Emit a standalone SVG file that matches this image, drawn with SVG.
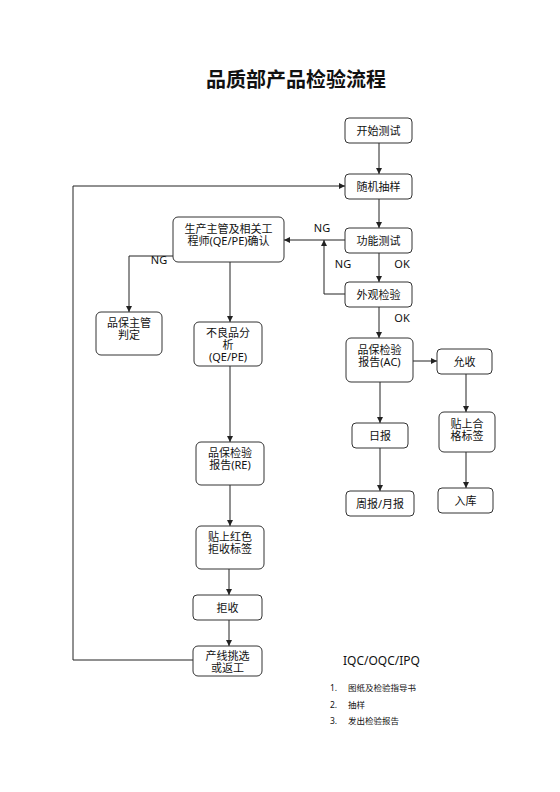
<svg xmlns="http://www.w3.org/2000/svg" width="560" height="792" viewBox="0 0 560 792">
<defs>
<style>
.n rect{fill:#fff;stroke:#333;stroke-width:1}
text{font-family:"Noto Sans","Noto Sans CJK SC",sans-serif;fill:#111}
.t{font-size:11px;text-anchor:middle}
.lbl{font-size:11px;text-anchor:middle}
.c{fill:none;stroke:#222;stroke-width:1}
.li{font-size:8.5px}
</style>
<marker id="ah" markerWidth="6" markerHeight="6" refX="6" refY="3" orient="auto" markerUnits="userSpaceOnUse">
<path d="M0,0 L6,3 L0,6 z" fill="#222"/>
</marker>
</defs>
<rect width="560" height="792" fill="#fff"/>
<text x="296" y="87" font-size="20" font-weight="bold" text-anchor="middle" font-family="Noto Sans CJK SC,sans-serif">品质部产品检验流程</text>

<g id="connectors">
<path class="c" d="M379,143 V174" marker-end="url(#ah)"/>
<path class="c" d="M379,199 V228" marker-end="url(#ah)"/>
<path class="c" d="M379,253 V282" marker-end="url(#ah)"/>
<path class="c" d="M379,307 V338" marker-end="url(#ah)"/>
<path class="c" d="M345,240 H284" marker-end="url(#ah)"/>
<path class="c" d="M345,294 H324 V240" marker-end="url(#ah)"/>
<path class="c" d="M173,256 H129 V312" marker-end="url(#ah)"/>
<path class="c" d="M230,262 V322" marker-end="url(#ah)"/>
<path class="c" d="M230,366 V442" marker-end="url(#ah)"/>
<path class="c" d="M230,485 V526" marker-end="url(#ah)"/>
<path class="c" d="M229,569 V595" marker-end="url(#ah)"/>
<path class="c" d="M229,620 V646" marker-end="url(#ah)"/>
<path class="c" d="M193,660 H73 V186 H345" marker-end="url(#ah)"/>
<path class="c" d="M413,361 H437" marker-end="url(#ah)"/>
<path class="c" d="M380,382 V423" marker-end="url(#ah)"/>
<path class="c" d="M380,448 V491" marker-end="url(#ah)"/>
<path class="c" d="M466,374 V412" marker-end="url(#ah)"/>
<path class="c" d="M466,452 V488" marker-end="url(#ah)"/>
<text class="lbl" x="322" y="232">NG</text>
<text class="lbl" x="343" y="268">NG</text>
<text class="lbl" x="402" y="268">OK</text>
<text class="lbl" x="402" y="322">OK</text>
<text class="lbl" x="159" y="264">NG</text>
</g>

<g id="start" class="n"><rect x="345" y="118" width="67" height="25" rx="4"/><text class="t" x="378.5" y="134.5">开始测试</text></g>
<g id="sample" class="n"><rect x="345" y="174" width="67" height="25" rx="4"/><text class="t" x="378.5" y="190.5">随机抽样</text></g>
<g id="func" class="n"><rect x="345" y="228" width="67" height="25" rx="4"/><text class="t" x="378.5" y="244.5">功能测试</text></g>
<g id="visual" class="n"><rect x="345" y="282" width="67" height="25" rx="4"/><text class="t" x="378.5" y="298.5">外观检验</text></g>
<g id="confirm" class="n"><rect x="173" y="217" width="111" height="45" rx="5"/><text class="t" x="228.5" y="232.5">生产主管及相关工</text><text class="t" x="228.5" y="244.5">程师(QE/PE)确认</text></g>
<g id="qajudge" class="n"><rect x="96" y="312" width="66" height="43" rx="5"/><text class="t" x="129" y="326.5">品保主管</text><text class="t" x="129" y="338.5">判定</text></g>
<g id="analysis" class="n"><rect x="194" y="322" width="68" height="44" rx="5"/><text class="t" x="228" y="336.5">不良品分</text><text class="t" x="228" y="348.5">析</text><text class="t" x="228" y="360.5">(QE/PE)</text></g>
<g id="reportAC" class="n"><rect x="346" y="338" width="67" height="44" rx="5"/><text class="t" x="379.5" y="353.5">品保检验</text><text class="t" x="379.5" y="365.5">报告(AC)</text></g>
<g id="accept" class="n"><rect x="437" y="349" width="55" height="25" rx="4"/><text class="t" x="464.5" y="365.5">允收</text></g>
<g id="daily" class="n"><rect x="352" y="423" width="56" height="25" rx="4"/><text class="t" x="380" y="439.5">日报</text></g>
<g id="passlabel" class="n"><rect x="439" y="412" width="56" height="40" rx="5"/><text class="t" x="467" y="427.5">贴上合</text><text class="t" x="467" y="439.5">格标签</text></g>
<g id="weekly" class="n"><rect x="346" y="491" width="68" height="25" rx="4"/><text class="t" x="380" y="507.5">周报/月报</text></g>
<g id="stock" class="n"><rect x="438" y="488" width="55" height="25" rx="4"/><text class="t" x="465.5" y="504.5">入库</text></g>
<g id="reportRE" class="n"><rect x="196" y="442" width="68" height="43" rx="5"/><text class="t" x="230" y="456.5">品保检验</text><text class="t" x="230" y="468.5">报告(RE)</text></g>
<g id="redlabel" class="n"><rect x="196" y="526" width="68" height="43" rx="5"/><text class="t" x="230" y="540.5">贴上红色</text><text class="t" x="230" y="552.5">拒收标签</text></g>
<g id="reject" class="n"><rect x="193" y="595" width="69" height="25" rx="4"/><text class="t" x="227.5" y="611.5">拒收</text></g>
<g id="rework" class="n"><rect x="193" y="646" width="69" height="30" rx="5"/><text class="t" x="227.5" y="659.5">产线挑选</text><text class="t" x="227.5" y="671.5">或返工</text></g>

<g id="notes">
<text x="343" y="665" font-size="12">IQC/OQC/IPQ</text>
<text class="li" x="330" y="691">1.</text><text class="li" x="348" y="691">图纸及检验指导书</text>
<text class="li" x="330" y="708">2.</text><text class="li" x="348" y="708">抽样</text>
<text class="li" x="330" y="724">3.</text><text class="li" x="348" y="724">发出检验报告</text>
</g>
</svg>
